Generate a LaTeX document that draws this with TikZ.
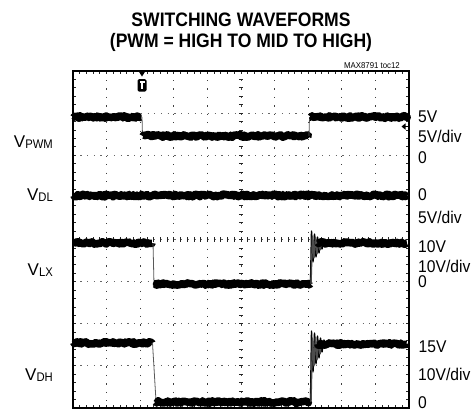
\documentclass[tikz,border=0pt]{standalone}
\usepackage{fontspec}
\usepackage{graphicx}
\setmainfont{Liberation Sans}
\usetikzlibrary{decorations.pathmorphing}
\newcommand{\Vlab}[1]{V\raisebox{-1.5pt}{\fontsize{12.5}{12.5}\selectfont\scalebox{0.9}[1]{#1}}}
\newcommand{\rtxt}[1]{\scalebox{0.92}[1]{#1}}
\begin{document}
\begin{tikzpicture}[x=1pt,y=-1pt,
  trace/.style={line width=7.5pt, line join=round, decorate,
    decoration={random steps, segment length=1.2pt, amplitude=1.3pt}},
  edgeline/.style={line width=0.8pt, black!65},
  ring/.style={line width=1.4pt, line join=round},
  gridv/.style={line width=1pt, black!75, dash pattern=on 1.2pt off 7.225pt},
  gridh/.style={line width=1pt, black!60, dash pattern=on 1.2pt off 5.52pt},
  tickline/.style={line width=0.8pt, black!85},
  lbl/.style={inner sep=0pt, anchor=base east, font=\fontsize{17}{17}\selectfont},
  rlbl/.style={inner sep=0pt, anchor=base west, font=\fontsize{17}{17}\selectfont},
  ttl/.style={inner sep=0pt, anchor=base, font=\fontsize{19.5}{19.5}\selectfont\bfseries},
]
\pgfmathsetseed{8791}
\useasboundingbox (0,0) rectangle (474,413);

% titles
\node[ttl] (t1) at (241,26) {\scalebox{0.9}[1]{SWITCHING WAVEFORMS}};
\node[ttl] (t2) at (241,47) {\scalebox{0.9}[1]{(PWM = HIGH TO MID TO HIGH)}};
\node[inner sep=0pt, anchor=base east, font=\fontsize{8.5}{8.5}\selectfont] (toc) at (400,68.5) {\scalebox{0.92}[1]{MAX8791 toc12}};

% grid
\foreach \i in {1,...,9} {
  \ifnum\i=5\relax\else
  \draw[gridv] ({73+33.6*\i},71.6) -- ({73+33.6*\i},408);
  \fi
}
\foreach \j in {1,...,7} {
  \ifnum\j=4\relax\else
  \draw[gridh] (73.6,{71+42.125*\j}) -- (409,{71+42.125*\j});
  \fi
}
% center axes
\draw[gridh] (73.6,239.5) -- (409,239.5);
\draw[gridv] (241,71.6) -- (241,408);
\foreach \k in {1,...,49} {
  \draw[tickline] ({73+6.72*\k},237.3) -- ({73+6.72*\k},241.7);
  \draw[tickline] ({73+6.72*\k},71) -- ({73+6.72*\k},74);
  \draw[tickline] ({73+6.72*\k},408) -- ({73+6.72*\k},405);
}
\foreach \k in {1,...,39} {
  \draw[tickline] (238.8,{71+8.425*\k}) -- (243.2,{71+8.425*\k});
  \draw[tickline] (73,{71+8.425*\k}) -- (76,{71+8.425*\k});
  \draw[tickline] (409,{71+8.425*\k}) -- (406,{71+8.425*\k});
}

% V_PWM
\draw[trace] (74,117) -- (141,117);
\draw[edgeline] (142,117) -- (142.5,136);
\draw[trace] (143,136) -- (308,136);
\draw[edgeline] (309,136) -- (309.5,117);
\draw[trace] (310,117) -- (407,117);

% V_DL
\draw[trace] (74,195.5) -- (407,195.5);

% V_LX
\draw[trace] (74,243) -- (152,243);
\draw[edgeline] (153,243) -- (154,284);
\draw[trace] (155,284) -- (310,284);
\draw[ring] (310.5,284) -- (311.5,231) -- (313,262) -- (314.5,234) -- (316,257) -- (317.5,237) -- (319,253) -- (320.5,239) -- (322,249) -- (324,241) -- (326,246);
\draw[ring, black!70] (311,284) -- (312.5,236) -- (314,258) -- (315.5,237) -- (317,254) -- (318.5,240) -- (320,250) -- (322,241) -- (324,247);
\draw[trace] (318,243) -- (407,243);

% V_DH
\draw[trace] (74,343) -- (152,343);
\draw[edgeline] (152.5,343) -- (156,401);
\draw[trace] (156,402) -- (310,402);
\draw[ring] (310.5,402) -- (311.5,331) -- (313,372) -- (314.5,333) -- (316,364) -- (317.5,336) -- (319,358) -- (320.5,338) -- (322,352) -- (324,340) -- (326,347);
\draw[ring, black!70] (311,402) -- (312.5,338) -- (314,366) -- (315.5,337) -- (317,360) -- (318.5,340) -- (320,354) -- (322,341) -- (324,348);
\draw[trace] (318,344) -- (407,344);

% frame
\draw[line width=2.6pt] (73,71) rectangle (409,408);

% trigger marker
\fill (138.5,71) -- (145.5,71) -- (142,76.5) -- cycle;
\fill[rounded corners=1.5pt] (137.5,79) rectangle (146.5,91.5);
\fill[white] (139.5,81) rectangle (144.5,83);
\fill[white] (141,81) rectangle (143,89);

% ground marker
\fill (401.5,126.5) -- (405.5,123.3) -- (405.5,129.7) -- cycle;
\draw[line width=1.2pt] (405,126.5) -- (409,126.5);

% left labels
\node[lbl] (vpwm) at (53,147) {\Vlab{PWM}};
\node[lbl] (vdl) at (53,200) {\Vlab{DL}};
\node[lbl] (vlx) at (53,275) {\Vlab{LX}};
\node[lbl] (vdh) at (53,380) {\Vlab{DH}};

% right labels
\node[rlbl] (r1) at (418,122) {\rtxt{5V}};
\node[rlbl] (r2) at (418,142) {\rtxt{5V/div}};
\node[rlbl] (r3) at (418,163) {\rtxt{0}};
\node[rlbl] (r4) at (418,200.5) {\rtxt{0}};
\node[rlbl] (r5) at (418,223) {\rtxt{5V/div}};
\node[rlbl] (r6) at (418,252) {\rtxt{10V}};
\node[rlbl] (r7) at (418,272) {\rtxt{10V/div}};
\node[rlbl] (r8) at (418,287.5) {\rtxt{0}};
\node[rlbl] (r9) at (418.5,352.5) {\rtxt{15V}};
\node[rlbl] (r10) at (418,380) {\rtxt{10V/div}};
\node[rlbl] (r11) at (418,408) {\rtxt{0}};
\end{tikzpicture}
\end{document}
